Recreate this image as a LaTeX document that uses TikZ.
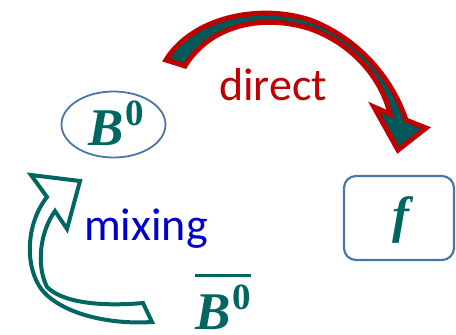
\documentclass[tikz,border=0pt]{standalone}
\usepackage{fontspec}
\usetikzlibrary{shapes.geometric}
\newfontfamily\calib{Carlito}
\newfontfamily\tms{Liberation Serif}
\definecolor{tealtxt}{RGB}{0,102,96}
\definecolor{tealfill}{RGB}{0,88,88}
\definecolor{dred}{RGB}{192,0,0}
\definecolor{mixblue}{RGB}{0,0,204}
\definecolor{boxblue}{RGB}{74,119,168}
\tikzset{
  mathlab/.style={inner sep=0, text=tealtxt, font=\tms\bfseries\itshape},
  wordlab/.style={inner sep=0, anchor=base west, font=\calib\fontsize{46}{46}\selectfont},
  directarrow/.style={draw=dred, fill=tealfill, line width=5pt, line join=miter, miter limit=6},
  mixarrow/.style={draw=tealtxt, fill=white, line width=4pt, line join=miter, miter limit=6}
}
\newcommand{\bzero}{\fontsize{53}{53}\selectfont B\kern2pt\raisebox{20pt}{\upshape\fontsize{37}{37}\selectfont 0}}
\begin{document}
\begin{tikzpicture}[x=1pt,y=-1pt]
\useasboundingbox (0,0) rectangle (456,335);
% nodes
\node[ellipse, draw=boxblue, line width=1.8pt, minimum width=104pt, minimum height=66pt, inner sep=0] (b0) at (113.5,124.5) {};
\node[mathlab] (b0lab) at (116,123) {\bzero};
\node[draw=boxblue, line width=2.2pt, rounded corners=12pt, minimum width=110pt, minimum height=84pt] (fbox) at (399,218) {};
\node[mathlab, font=\tms\bfseries\itshape\fontsize{51}{51}\selectfont] (flab) at (401,220) {f};
\node[mathlab, anchor=south west] (b0bar) at (195,330) {\vbox{\hrule height 3pt\kern 8pt\hbox{\bzero}}};
\node[wordlab, text=dred] (dir) at (219,100) {direct};
\node[wordlab, text=mixblue] (mix) at (84,240) {mixing};
% direct arrow
\coordinate (dT1) at (166,60);
\coordinate (dT2) at (185,66);
\draw[directarrow] (dT1) .. controls (192,18) and (258,3) .. (310,20)
  .. controls (358,38) and (392,78) .. (406,120)
  -- (426,128) -- (398,150) -- (374,107) -- (390,114)
  .. controls (381,76) and (350,42) .. (308,28)
  .. controls (257,13) and (208,28) .. (dT2) -- cycle;
% mixing arrow
\coordinate (mA) at (152,322);
\coordinate (mB) at (143,303);
\draw[mixarrow] (mA) .. controls (105,325) and (60,312) .. (42,290)
  .. controls (25,268) and (25,225) .. (47,197)
  -- (31,175) -- (80,181) -- (67,229) -- (55,211)
  .. controls (40,232) and (36,265) .. (47,287)
  .. controls (65,305) and (110,306) .. (mB) -- cycle;
\end{tikzpicture}
\end{document}
